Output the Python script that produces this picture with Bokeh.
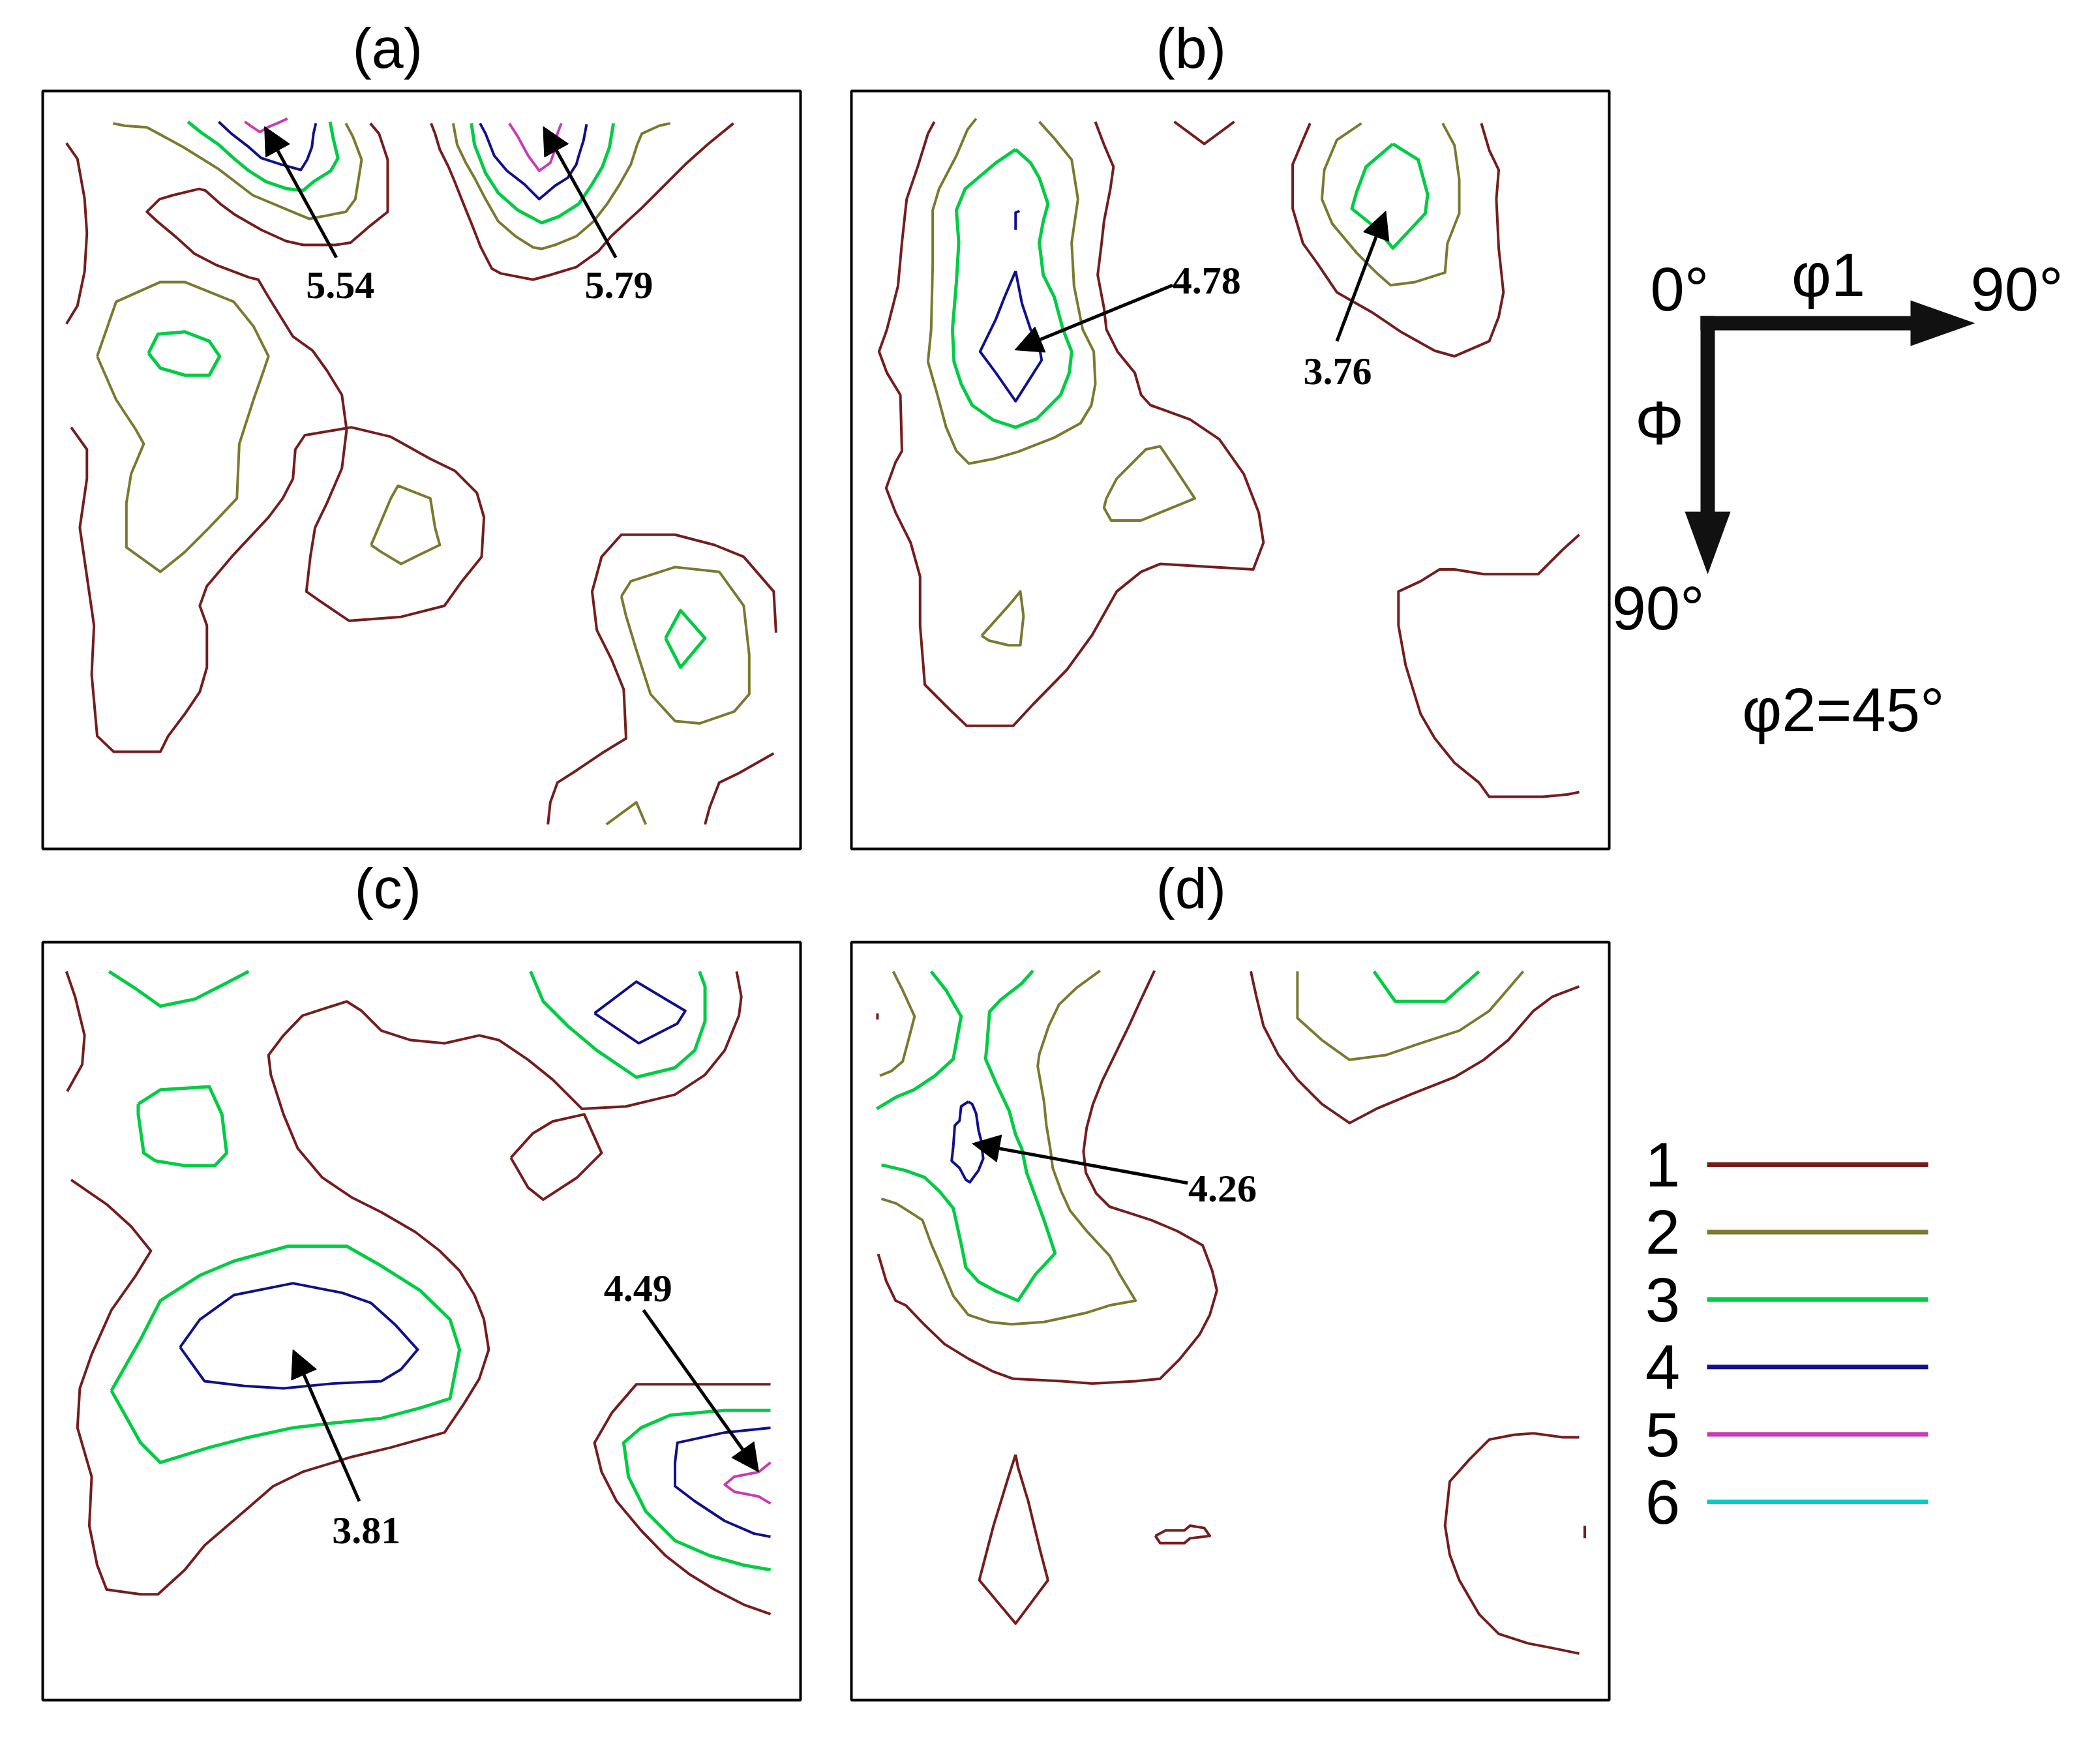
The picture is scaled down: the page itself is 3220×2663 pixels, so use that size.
from bokeh.plotting import figure
from bokeh.layouts import row, column
from bokeh.models import Range1d, Arrow, NormalHead, Title, ColumnDataSource
from bokeh.core.properties import value
from bokeh.embed import file_html
from bokeh.resources import INLINE

# ---------------- data ----------------
LEVELS = [1, 2, 3, 4, 5, 6]
LEVEL_COLORS = ["#751d1d", "#7a7a30", "#00cc44", "#10108c", "#c83cb4", "#00ccc4"]
PANEL_TITLES = ["(a)", "(b)", "(c)", "(d)"]

# contour polylines, (phi1, Phi) in degrees, per panel and level
A_L1 = [
    [(0, 3.6), (1.4, 5.6), (2.3, 10.6), (2.6, 15.0), (2.3, 19.9), (1.4, 24.2), (0, 26.5)],
    [(38.5, 1.1), (39.6, 2.4), (40.7, 5.7), (40.7, 12.3), (38.2, 14.3), (36.0, 16.2), (34.1, 16.5), (30.0, 16.5),
     (27.8, 16.0), (24.7, 14.6), (21.4, 12.7), (19.5, 11.3), (17.6, 9.6), (16.8, 9.4), (13.5, 10.2), (11.8, 10.7),
     (10.2, 12.3), (11.5, 13.5), (14.0, 15.6), (16.2, 17.6), (18.9, 19.0), (23.1, 20.6), (24.3, 20.9), (25.6, 23.1),
     (28.7, 28.1), (31.2, 29.9), (33.0, 32.4), (34.9, 35.5), (35.5, 39.9), (34.9, 44.8), (33.0, 49.2), (31.5, 52.3),
     (30.9, 56.0), (30.4, 60.4), (32.1, 61.6), (35.8, 64.1), (42.4, 63.6), (47.9, 62.2), (50.1, 59.1), (52.6, 56.0),
     (52.9, 51.0), (52.0, 47.9), (49.2, 45.1), (46.1, 43.6), (41.1, 40.8), (36.1, 39.6), (30.2, 40.6), (29.0, 42.4),
     (28.7, 46.1), (27.4, 48.6), (25.6, 51.0), (21.2, 55.7), (17.8, 59.7), (16.9, 62.2), (17.8, 64.7), (17.8, 70.0),
     (16.9, 73.1), (15.0, 75.9), (12.9, 78.7), (11.9, 80.7), (6.0, 80.7), (3.9, 78.7), (3.2, 70.9), (3.5, 64.7),
     (2.6, 58.5), (1.7, 52.3), (2.6, 46.1), (2.6, 42.4), (0.6, 39.6)],
    [(46.2, 1.1), (46.7, 2.4), (47.3, 4.4), (48.4, 6.6), (49.2, 8.5), (50.3, 11.3), (51.4, 14.0), (52.5, 16.8),
     (53.9, 19.5), (55.0, 20.1), (59.1, 20.9), (61.3, 20.3), (64.6, 19.3), (67.4, 17.3), (69.0, 15.4), (72.9, 11.8),
     (78.4, 6.3), (81.2, 3.8), (84.5, 1.1)],
    [(89.9, 65.6), (89.6, 60.4), (85.8, 56.0), (82.1, 54.5), (77.1, 53.2), (70.3, 53.2), (67.8, 56.0), (66.6, 60.4),
     (67.2, 65.3), (69.1, 69.1), (70.6, 72.8), (70.9, 79.0), (67.8, 80.9), (64.7, 83.0), (62.2, 84.6), (61.3, 87.1),
     (61.0, 89.9)],
    [(89.6, 80.9), (85.2, 83.4), (82.7, 84.6), (81.5, 87.7), (80.9, 89.9)],
]
A_L2 = [
    [(5.9, 1.1), (7.4, 1.4), (10.2, 1.6), (14.8, 4.1), (19.3, 6.9), (23.6, 10.2), (28.6, 12.3), (30.8, 13.2),
     (35.4, 12.3), (36.6, 10.7), (37.4, 5.7), (36.3, 2.8), (35.4, 1.1)],
    [(49.0, 1.1), (49.5, 3.8), (50.6, 6.1), (51.7, 8.0), (53.1, 10.7), (54.7, 13.5), (56.9, 15.4), (59.1, 16.8),
     (60.2, 17.0), (61.9, 16.5), (64.6, 15.4), (66.8, 13.5), (68.5, 11.3), (70.1, 8.8), (71.5, 6.3), (72.3, 3.8),
     (72.9, 2.4), (75.1, 1.4), (76.5, 1.1)],
    [(3.9, 30.6), (6.3, 23.7), (11.9, 21.2), (15.0, 21.2), (21.2, 23.7), (23.7, 26.8), (25.6, 30.6), (25.0, 32.4),
     (23.7, 36.1), (21.9, 41.7), (21.6, 48.6), (18.1, 52.3), (15.0, 55.4), (11.9, 57.9), (7.6, 54.8), (7.6, 49.2),
     (8.2, 45.5), (9.8, 41.7), (8.8, 39.9), (6.3, 36.1), (3.9, 30.6)],
    [(38.6, 54.5), (41.1, 48.6), (42.0, 47.0), (46.1, 48.6), (46.7, 52.3), (47.3, 54.5), (44.8, 55.7), (42.4, 56.9),
     (39.9, 55.4), (38.6, 54.5)],
    [(70.3, 61.0), (71.5, 59.1), (77.1, 57.3), (82.7, 57.9), (85.8, 62.2), (86.5, 68.4), (86.5, 73.4), (84.6, 75.6),
     (80.2, 77.1), (77.1, 76.8), (74.0, 73.4), (72.2, 67.8), (70.9, 63.5), (70.3, 61.0)],
    [(68.4, 89.9), (72.2, 87.1), (73.4, 89.9)],
]
A_L3 = [
    [(15.4, 0.9), (17.0, 2.2), (19.3, 3.8), (21.4, 5.7), (23.1, 7.1), (25.3, 8.5), (28.0, 9.4), (30.0, 9.6),
     (31.3, 8.5), (33.5, 7.1), (34.4, 5.5), (33.8, 3.0), (33.4, 0.9)],
    [(51.3, 1.1), (51.7, 3.8), (53.1, 7.4), (54.7, 9.9), (57.2, 12.1), (60.2, 13.7), (62.4, 12.9), (64.9, 11.3),
     (66.6, 8.8), (67.9, 6.6), (68.8, 4.1), (69.3, 1.1)],
    [(10.4, 30.2), (11.6, 27.8), (15.0, 27.5), (18.1, 28.7), (19.4, 30.6), (18.1, 33.0), (15.0, 33.0), (11.9, 32.1),
     (10.4, 30.2)],
    [(75.9, 66.3), (77.8, 62.8), (80.9, 66.3), (77.8, 70.0), (75.9, 66.3)],
]
A_L4 = [
    [(19.3, 0.9), (20.9, 2.4), (23.1, 4.1), (24.7, 5.5), (27.2, 6.3), (29.7, 7.0), (30.5, 5.7), (31.1, 4.1),
     (31.3, 2.4), (31.6, 1.1)],
    [(52.4, 1.1), (53.1, 2.4), (54.2, 5.2), (55.8, 7.1), (58.0, 8.8), (59.9, 10.7), (61.9, 9.0), (63.5, 8.0),
     (64.6, 6.3), (64.9, 5.2), (65.5, 3.3), (65.9, 1.2)],
]
A_L5 = [
    [(22.6, 0.9), (23.6, 1.6), (24.5, 2.2), (25.5, 1.6), (26.7, 1.1), (28.0, 0.5)],
    [(56.1, 1.1), (57.2, 2.8), (58.5, 5.2), (59.9, 7.1), (61.3, 6.1), (61.9, 4.4), (62.2, 2.4), (62.7, 1.1)],
]

B_L1 = [
    [(7.5, 0.9), (6.7, 2.4), (5.4, 6.6), (4.0, 10.7), (3.4, 16.2), (2.9, 21.7), (1.5, 27.2), (0.5, 30.0), (1.5, 32.7),
     (3.2, 35.5), (3.4, 42.6), (2.6, 44.0), (1.4, 47.3), (2.6, 50.4), (4.5, 54.2), (5.7, 58.5), (5.7, 64.7),
     (6.3, 72.2), (9.4, 75.3), (11.6, 77.4), (17.5, 77.4), (20.0, 74.7), (24.3, 70.3), (27.5, 65.9), (30.6, 60.4),
     (33.7, 57.9), (36.1, 56.9), (47.9, 57.6), (49.2, 54.2), (48.6, 50.4), (46.7, 45.5), (43.6, 41.1), (39.9, 38.6),
     (34.9, 36.8), (33.7, 35.5), (32.9, 32.7), (30.7, 30.0), (29.3, 27.2), (29.0, 24.5), (28.2, 20.3), (28.7, 16.2),
     (29.0, 13.5), (29.8, 9.4), (30.2, 6.6), (29.0, 3.8), (27.9, 0.9)],
    [(37.9, 0.9), (41.7, 3.7), (45.5, 0.9)],
    [(55.1, 1.1), (54.2, 3.2), (52.9, 6.3), (52.9, 11.9), (54.2, 16.3), (56.0, 18.8), (58.5, 22.5), (62.9, 25.0),
     (66.6, 27.5), (70.9, 29.9), (73.4, 30.6), (77.8, 28.7), (79.0, 25.6), (79.6, 22.5), (79.0, 16.9), (78.7, 10.7),
     (79.0, 7.0), (77.8, 4.5), (76.8, 1.1)],
    [(89.2, 53.2), (87.1, 55.1), (84.0, 58.2), (80.2, 58.2), (77.1, 58.2), (73.4, 57.6), (71.5, 57.6), (69.1, 59.1),
     (66.3, 60.4), (66.3, 64.7), (67.2, 69.7), (69.1, 75.9), (70.9, 79.0), (73.4, 82.1), (76.5, 84.6), (77.8, 86.4),
     (80.9, 86.4), (84.6, 86.4), (87.7, 86.1), (89.2, 85.8)],
]
B_L2 = [
    [(12.8, 0.5), (11.7, 1.9), (10.3, 5.2), (8.1, 9.4), (7.3, 12.1), (7.3, 19.0), (7.1, 27.2), (6.7, 31.3),
     (7.9, 35.5), (9.0, 39.6), (10.3, 42.6), (11.9, 44.2), (15.0, 43.6), (18.1, 42.7), (22.7, 40.9), (26.0, 39.1),
     (27.4, 36.8), (27.9, 34.1), (27.7, 30.0), (26.3, 27.2), (25.2, 21.7), (24.9, 16.2), (25.7, 10.7), (24.9, 5.7),
     (22.7, 3.0), (20.8, 0.9)],
    [(61.6, 1.1), (58.5, 3.2), (56.9, 7.0), (56.6, 10.7), (57.9, 13.8), (61.0, 17.5), (63.5, 20.0), (65.3, 21.6),
     (68.4, 21.2), (72.2, 20.0), (72.5, 16.3), (74.0, 12.5), (74.0, 8.2), (73.4, 3.9), (71.9, 1.1)],
    [(29.3, 48.6), (30.6, 46.1), (34.3, 42.4), (36.1, 42.0), (38.0, 44.8), (40.5, 48.6), (36.1, 50.4), (33.7, 51.4),
     (29.9, 51.4), (29.0, 49.8), (29.3, 48.6)],
    [(13.5, 66.0), (16.9, 62.2), (18.4, 60.4), (18.8, 63.5), (18.4, 67.2), (16.9, 67.2), (14.4, 66.6), (13.5, 66.0)],
]
B_L3 = [
    [(17.8, 4.4), (15.3, 6.1), (11.4, 9.4), (10.3, 12.1), (10.6, 16.2), (10.3, 21.2), (9.8, 27.2), (10.0, 31.3),
     (10.9, 34.1), (12.3, 36.8), (15.0, 38.7), (17.8, 39.6), (20.5, 38.5), (23.5, 35.5), (24.6, 32.7), (24.9, 30.0),
     (23.8, 27.2), (22.7, 23.1), (21.3, 20.3), (20.8, 16.2), (21.3, 13.5), (21.9, 11.3), (20.8, 8.0), (19.7, 6.1),
     (17.8, 4.4)],
    [(65.6, 3.7), (62.2, 6.6), (61.0, 9.8), (60.4, 11.9), (63.5, 14.4), (65.6, 16.9), (69.7, 12.5), (70.0, 10.1),
     (68.8, 5.7), (65.6, 3.7)],
]
B_L4 = [
    [(17.8, 19.8), (16.4, 23.1), (15.3, 25.9), (13.3, 30.0), (15.3, 32.7), (17.8, 36.3), (19.7, 33.3), (21.1, 31.1),
     (20.8, 29.4), (19.7, 27.2), (18.6, 23.9), (17.8, 19.8)],
    [(17.8, 14.6), (17.8, 12.4), (18.3, 12.2)],
]

C_L1 = [
    [(0, 0.7), (1.1, 3.9), (2.3, 8.8), (2.0, 12.5), (0.1, 15.9)],
    [(0.6, 27.1), (5.1, 30.2), (8.2, 33.0), (10.7, 36.1), (8.8, 39.2), (5.7, 43.6), (3.2, 49.2), (1.7, 53.5),
     (1.4, 58.5), (3.2, 64.7), (2.9, 70.9), (3.9, 75.9), (5.1, 79.0), (9.4, 79.6), (11.6, 79.6), (15.0, 76.5),
     (17.5, 73.4), (22.5, 69.1), (26.2, 65.9), (29.9, 64.1), (36.1, 62.2), (41.1, 61.0), (47.9, 59.1), (50.4, 55.4),
     (52.3, 52.3), (53.5, 48.6), (52.9, 44.8), (51.7, 41.7), (49.8, 38.6), (47.3, 36.1), (44.2, 33.7), (39.9, 31.2),
     (36.1, 29.3), (32.4, 26.8), (29.3, 23.1), (27.5, 18.8), (25.9, 13.8), (25.6, 11.3), (27.5, 8.8), (29.9, 6.3),
     (35.5, 4.5), (37.4, 5.7), (39.9, 8.2), (43.6, 9.4), (47.9, 9.8), (52.3, 8.8), (54.8, 9.4), (58.5, 11.9),
     (61.6, 14.4), (63.5, 16.3), (65.3, 18.1), (70.9, 17.8), (77.1, 16.3), (80.9, 13.8), (83.4, 10.7), (85.2, 6.3),
     (85.5, 3.9), (84.9, 0.7)],
    [(56.3, 24.3), (59.1, 21.2), (61.6, 19.7), (65.6, 18.8), (67.8, 23.7), (64.7, 26.8), (60.4, 29.6), (58.5, 28.1),
     (56.3, 24.3)],
    [(89.2, 53.0), (87.1, 53.0), (77.1, 53.0), (72.2, 53.0), (69.1, 56.6), (66.9, 60.4), (67.8, 64.1), (69.7, 67.8),
     (72.8, 71.5), (75.9, 74.7), (79.0, 77.1), (82.1, 79.0), (85.8, 80.9), (89.2, 82.1)],
]
C_L3 = [
    [(5.4, 0.7), (8.8, 2.9), (11.9, 5.1), (16.3, 4.2), (20.0, 2.3), (23.1, 0.7)],
    [(9.1, 17.5), (11.9, 15.7), (18.1, 15.3), (19.7, 18.8), (20.3, 23.7), (18.8, 25.3), (15.0, 25.3), (11.3, 24.7),
     (9.8, 23.7), (9.1, 18.8), (9.1, 17.5)],
    [(58.8, 0.7), (60.4, 4.5), (63.5, 7.6), (67.2, 10.7), (72.2, 14.1), (77.1, 12.9), (79.6, 10.7), (80.9, 7.0),
     (80.9, 2.6), (80.2, 0.7)],
    [(5.7, 53.8), (9.4, 47.3), (11.9, 42.4), (16.9, 39.2), (21.2, 37.4), (28.1, 35.5), (35.5, 35.5), (39.9, 38.0),
     (44.8, 41.1), (48.6, 44.8), (49.8, 48.6), (48.6, 54.8), (44.8, 56.0), (39.9, 57.3), (33.7, 57.9), (28.7, 58.5),
     (23.1, 59.7), (18.1, 61.0), (11.9, 62.9), (9.4, 60.4), (5.7, 53.8)],
    [(89.2, 56.3), (83.4, 56.3), (76.5, 56.9), (72.8, 58.5), (70.6, 60.4), (71.2, 64.7), (73.4, 69.1), (77.1, 72.8),
     (81.5, 74.7), (85.8, 75.9), (89.2, 76.5)],
]
C_L4 = [
    [(66.9, 6.0), (72.2, 2.0), (78.4, 5.7), (77.4, 7.3), (72.5, 9.8), (66.9, 6.0)],
    [(14.4, 48.3), (16.9, 44.8), (21.2, 41.7), (28.7, 40.2), (34.9, 41.4), (38.6, 42.7), (41.7, 45.5), (44.5, 48.6),
     (42.4, 51.1), (39.9, 52.6), (33.7, 52.9), (27.5, 53.5), (22.5, 53.2), (17.5, 52.6), (14.4, 48.3)],
    [(89.2, 58.5), (83.4, 59.1), (77.4, 60.4), (77.1, 62.9), (77.1, 65.9), (79.6, 67.8), (83.4, 70.3), (87.1, 71.9),
     (89.2, 72.3)],
]
C_L5 = [
    [(89.2, 62.9), (87.7, 64.1), (84.6, 64.7), (83.4, 65.7), (84.6, 66.6), (87.7, 67.2), (89.2, 68.1)],
]

D_L1 = [
    [(35.4, 0.6), (33.8, 4.0), (32.2, 7.5), (30.5, 11.0), (28.8, 14.5), (27.6, 17.5), (26.8, 20.5), (26.4, 23.5),
     (26.7, 26.2), (28.0, 28.8), (29.7, 30.5), (32.2, 31.3), (35.0, 32.2), (38.3, 33.6), (41.5, 35.4), (42.7, 38.6),
     (43.3, 41.1), (42.4, 44.2), (41.1, 46.7), (38.6, 49.8), (36.1, 52.3), (33.0, 52.6), (27.5, 52.9), (23.7, 52.6),
     (17.5, 52.3), (15.0, 51.4), (11.9, 49.8), (8.8, 47.9), (6.3, 45.5), (3.9, 43.0), (2.6, 42.4), (1.4, 39.9),
     (0.4, 36.5)],
    [(47.6, 0.7), (48.3, 3.9), (49.2, 7.6), (51.1, 11.3), (53.5, 14.4), (56.6, 17.5), (60.1, 19.9), (63.5, 18.1),
     (67.8, 16.3), (73.4, 14.1), (77.1, 11.9), (80.2, 9.4), (83.4, 5.7), (85.8, 3.9), (89.2, 2.6)],
    [(17.8, 61.9), (16.9, 64.7), (15.0, 70.9), (13.2, 77.8), (17.8, 83.3), (21.9, 77.8), (20.9, 74.0), (19.4, 67.8),
     (18.1, 63.5), (17.8, 61.9)],
    [(35.5, 72.2), (36.8, 71.5), (39.2, 71.5), (39.9, 70.9), (41.7, 71.2), (42.4, 72.2), (39.9, 72.5), (39.2, 73.1),
     (36.1, 73.1), (35.5, 72.2)],
    [(89.2, 59.7), (87.1, 59.7), (83.4, 59.2), (80.9, 59.4), (77.8, 60.0), (75.3, 62.5), (72.8, 65.3), (72.2, 70.9),
     (72.8, 74.6), (74.0, 77.8), (76.5, 82.1), (79.0, 84.6), (82.7, 85.8), (85.8, 86.4), (89.2, 87.1)],
    [(89.9, 70.9), (89.9, 72.5)],
    [(0.3, 6.0), (0.3, 6.8)],
]
D_L2 = [
    [(2.3, 0.7), (3.5, 3.1), (5.0, 6.4), (4.3, 9.1), (3.5, 12.1), (2.1, 13.3), (0.6, 13.9)],
    [(28.5, 0.6), (25.5, 2.8), (23.3, 4.9), (22.0, 7.6), (20.8, 11.2), (20.6, 12.7), (21.4, 17.2), (21.7, 20.2),
     (22.2, 23.2), (22.5, 25.6), (23.6, 28.6), (24.7, 31.0), (26.9, 33.7), (29.7, 36.7), (31.0, 39.1), (33.0, 42.4),
     (29.7, 43.0), (26.9, 43.9), (24.2, 44.5), (21.4, 45.1), (17.3, 45.4), (14.5, 45.1), (11.8, 44.2), (9.9, 41.8),
     (8.4, 38.2), (7.1, 35.2), (6.0, 32.2), (4.6, 31.3), (2.7, 30.1), (0.8, 29.5)],
    [(53.5, 0.7), (53.5, 6.6), (56.6, 9.4), (60.1, 11.9), (64.7, 11.3), (69.1, 9.8), (74.0, 8.2), (77.8, 5.7),
     (82.1, 0.7)],
]
D_L3 = [
    [(7.1, 0.7), (9.0, 3.1), (10.9, 6.4), (10.4, 9.1), (9.9, 11.8), (7.6, 13.9), (4.9, 15.7), (2.7, 16.6),
     (0.2, 18.1)],
    [(20.0, 0.6), (18.6, 2.2), (15.9, 4.3), (14.5, 5.8), (14.2, 9.7), (14.0, 11.8), (15.3, 14.8), (17.0, 18.4),
     (17.8, 21.4), (18.6, 23.2), (19.2, 26.2), (20.3, 29.2), (21.4, 32.2), (22.8, 36.4), (20.3, 39.1), (18.1, 42.4),
     (15.3, 41.2), (13.1, 40.0), (11.5, 38.2), (10.9, 35.2), (9.9, 30.7), (8.2, 28.6), (6.3, 26.8), (3.8, 25.9),
     (0.8, 25.2)],
    [(63.2, 0.7), (65.9, 4.5), (72.2, 4.5), (76.5, 0.7)],
]
D_L4 = [
    [(11.8, 17.2), (10.9, 17.8), (10.7, 19.6), (10.1, 20.2), (9.9, 22.9), (9.7, 24.7), (10.7, 25.6), (11.5, 27.1),
     (12.0, 27.4), (13.1, 25.9), (13.7, 24.4), (13.4, 22.0), (13.1, 20.8), (12.8, 18.7), (12.3, 17.5), (11.8, 17.2)],
]

# peak annotations: value, label position, arrow tail and arrow tip (degrees)
A_PEAKS = ["5.54", "5.79"]
A_LABEL_XY = [(34.7, 21.6), (70.0, 21.6)]
A_TAIL = [(34.2, 18.1), (69.6, 18.1)]
A_TIP = [(25.1, 1.5), (60.4, 1.5)]
B_PEAKS = ["4.78", "3.76"]
B_LABEL_XY = [(42.0, 21.0), (58.6, 32.5)]
B_TAIL = [(37.7, 21.6), (58.5, 28.7)]
B_TIP = [(17.7, 29.8), (64.7, 12.2)]
C_PEAKS = ["3.81", "4.49"]
C_LABEL_XY = [(38.0, 71.5), (72.4, 40.9)]
C_TAIL = [(37.1, 67.8), (73.1, 43.6)]
C_TIP = [(28.7, 48.6), (87.7, 64.1)]
D_PEAKS = ["4.26"]
D_LABEL_XY = [(44.0, 28.2)]
D_TAIL = [(39.6, 27.5)]
D_TIP = [(12.3, 22.5)]

AXIS_LABELS = ["0°", "φ1", "90°", "Φ", "90°"]
SECTION_LABEL = "φ2=45°"

# ---------------- drawing ----------------
FRAME = 1162


def title(text, offset, standoff, valign):
    return Title(text=text, align="left", offset=offset, standoff=standoff, vertical_align=valign,
                 text_font="Liberation Sans", text_font_style="normal", text_font_size="88px",
                 text_color="black")


def make_panel(levels, peaks, label_xy, tails, tips, bl, br, bt, bb):
    p = figure(frame_width=FRAME, frame_height=FRAME,
               x_range=Range1d(-3, 93), y_range=Range1d(93, -3),
               x_axis_location=None, y_axis_location=None,
               toolbar_location=None, output_backend="svg",
               min_border_left=bl, min_border_right=br, min_border_top=bt, min_border_bottom=bb,
               background_fill_color="white", border_fill_color="white")
    p.grid.grid_line_color = None
    p.outline_line_color = "black"
    p.outline_line_width = 4
    for lev, lines in levels:
        xs = [[pt[0] for pt in ln] for ln in lines]
        ys = [[pt[1] for pt in ln] for ln in lines]
        p.multi_line(xs, ys, line_color=LEVEL_COLORS[lev - 1],
                     line_width=5 if lev == 3 else 4, line_join="round")
    for (x0, y0), (x1, y1) in zip(tails, tips):
        p.add_layout(Arrow(x_start=x0, y_start=y0, x_end=x1, y_end=y1, line_color="black", line_width=5,
                           end=NormalHead(size=42, fill_color="black", line_color="black", line_width=1)))
    src = ColumnDataSource(dict(x=[q[0] for q in label_xy], y=[q[1] for q in label_xy], t=peaks))
    p.text(x="x", y="y", text="t", source=src, text_align="center", text_baseline="middle",
           text_font=value("Liberation Serif"), text_font_style="bold", text_font_size="60px",
           text_color="black")
    return p


pa = make_panel([(1, A_L1), (2, A_L2), (3, A_L3), (4, A_L4), (5, A_L5)],
                A_PEAKS, A_LABEL_XY, A_TAIL, A_TIP, 59, 41, 139, 130)
pb = make_panel([(1, B_L1), (2, B_L2), (3, B_L3), (4, B_L4)],
                B_PEAKS, B_LABEL_XY, B_TAIL, B_TIP, 37, 11, 139, 130)
pc = make_panel([(1, C_L1), (3, C_L3), (4, C_L4), (5, C_L5)],
                C_PEAKS, C_LABEL_XY, C_TAIL, C_TIP, 65, 35, 13, 30)
pd = make_panel([(1, D_L1), (2, D_L2), (3, D_L3), (4, D_L4)],
                D_PEAKS, D_LABEL_XY, D_TAIL, D_TIP, 43, 5, 13, 30)

# panel captions: (a)/(b) above their frames; (c)/(d) sit in the gap below (a)/(b)
pa.add_layout(title(PANEL_TITLES[0], 475, 34, "bottom"), "above")
pb.add_layout(title(PANEL_TITLES[1], 467, 34, "bottom"), "above")
pa.add_layout(title(PANEL_TITLES[2], 478, 20, "top"), "below")
pb.add_layout(title(PANEL_TITLES[3], 467, 20, "top"), "below")

# side figure: orientation key and legend (screen-like units)
SW, SH = 732, 2636
side = figure(width=SW, height=SH, x_range=Range1d(0, SW), y_range=Range1d(SH, 0),
              x_axis_location=None, y_axis_location=None, toolbar_location=None, output_backend="svg",
              min_border=0, min_border_left=0, min_border_right=0, min_border_top=0, min_border_bottom=0)
side.grid.grid_line_color = None
side.outline_line_color = None

side.quad(left=[135, 135], right=[458, 157], top=[484, 484], bottom=[506, 785], fill_color="#111111",
          line_color=None)
side.patches(xs=[[457, 556, 457], [111, 181, 146]], ys=[[460, 495, 530], [784, 784, 880]],
             fill_color="#111111", line_color=None)
side.text(x=[103, 331, 620, 72, 70], y=[443, 421, 443, 648, 932], text=AXIS_LABELS,
          text_align="center", text_baseline="middle", text_font=value("Liberation Sans"),
          text_font_size="94px", text_color="black")
side.text(x=[354], y=[1088], text=[SECTION_LABEL], text_align="center", text_baseline="middle",
          text_font=value("Liberation Sans"), text_font_size="94px", text_color="black")

leg_y = [1785 + i * 103.4 for i in range(len(LEVELS))]
side.segment(x0=[145] * len(LEVELS), x1=[484] * len(LEVELS), y0=leg_y, y1=leg_y,
             line_color=LEVEL_COLORS, line_width=7)
side.text(x=[77] * len(LEVELS), y=leg_y, text=[str(v) for v in LEVELS],
          text_align="center", text_baseline="middle", text_font=value("Liberation Sans"),
          text_font_size="96px", text_color="black")

layout = row(column(pa, pc), column(pb, pd), side)

open("out.html", "w").write(file_html(layout, INLINE))
